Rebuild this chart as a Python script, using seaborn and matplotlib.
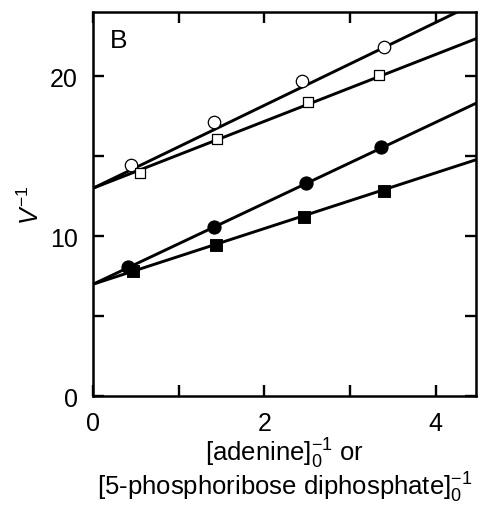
import numpy as np
import pandas as pd
import seaborn as sns
import matplotlib.pyplot as plt

# reciprocal substrate concentrations and V^-1
x_open_circ = [0.44, 1.41, 2.44, 3.39]
y_open_circ = [14.45, 17.15, 19.7, 21.85]
x_open_sq = [0.55, 1.45, 2.51, 3.34]
y_open_sq = [13.95, 16.05, 18.4, 20.1]
x_fill_circ = [0.41, 1.41, 2.49, 3.36]
y_fill_circ = [8.1, 10.55, 13.3, 15.55]
x_fill_sq = [0.46, 1.44, 2.46, 3.39]
y_fill_sq = [7.85, 9.45, 11.2, 12.85]

# fitted lines (intercept, slope)
fit_open_circ = (13.0, 2.59)
fit_open_sq = (13.0, 2.09)
fit_fill_circ = (7.0, 2.53)
fit_fill_sq = (7.0, 1.74)

sns.set_style("ticks", {"axes.edgecolor": "black", "text.color": "black",
                        "axes.labelcolor": "black", "xtick.color": "black",
                        "ytick.color": "black"})
plt.rcParams['font.family'] = ['Liberation Sans', 'DejaVu Sans']
plt.rcParams['mathtext.fontset'] = 'custom'
plt.rcParams['mathtext.rm'] = 'Liberation Sans'
plt.rcParams['mathtext.it'] = 'Liberation Sans:italic'

fig = plt.figure(figsize=(4.98, 5.06), dpi=100)
ax = fig.add_axes([0.187, 0.215, 0.769, 0.759])

xmax = 4.47
xs = np.linspace(0, xmax, 50)
for b, m in [fit_open_circ, fit_open_sq, fit_fill_circ, fit_fill_sq]:
    sns.lineplot(x=xs, y=b + m * xs, color="black", lw=2.1, ax=ax)

sns.scatterplot(x=x_open_circ, y=y_open_circ, marker="o", s=80,
                facecolor="white", edgecolor="black", linewidth=0.9, ax=ax, zorder=3)
sns.scatterplot(x=x_open_sq, y=y_open_sq, marker="s", s=62,
                facecolor="white", edgecolor="black", linewidth=0.9, ax=ax, zorder=3)
sns.scatterplot(x=x_fill_circ, y=y_fill_circ, marker="o", s=90,
                color="black", edgecolor="black", ax=ax, zorder=3)
sns.scatterplot(x=x_fill_sq, y=y_fill_sq, marker="s", s=68,
                color="black", edgecolor="black", ax=ax, zorder=3)

ax.set_xlim(0, xmax)
ax.set_ylim(0, 24)
ax.set_xticks([0, 1, 2, 3, 4])
ax.set_xticklabels(["0", "", "2", "", "4"])
ax.set_yticks([0, 5, 10, 15, 20])
ax.set_yticklabels(["0", "", "10", "", "20"])
ax.tick_params(direction="in", length=8, width=1.7, top=True, right=True,
               labelsize=18, pad=11)
for sp in ax.spines.values():
    sp.set_linewidth(1.8)
    sp.set_visible(True)

ax.set_ylabel(r"$V^{-1}$", fontsize=18, labelpad=4)
ax.set_xlabel(r"[adenine]$_0^{-1}$ or" + "\n" +
              r"[5-phosphoribose diphosphate]$_0^{-1}$", fontsize=18.5,
              labelpad=0, linespacing=1.0)
ax.text(0.043, 0.96, "B", transform=ax.transAxes, fontsize=19, va="top", ha="left")

plt.savefig("out.png", dpi=100)
